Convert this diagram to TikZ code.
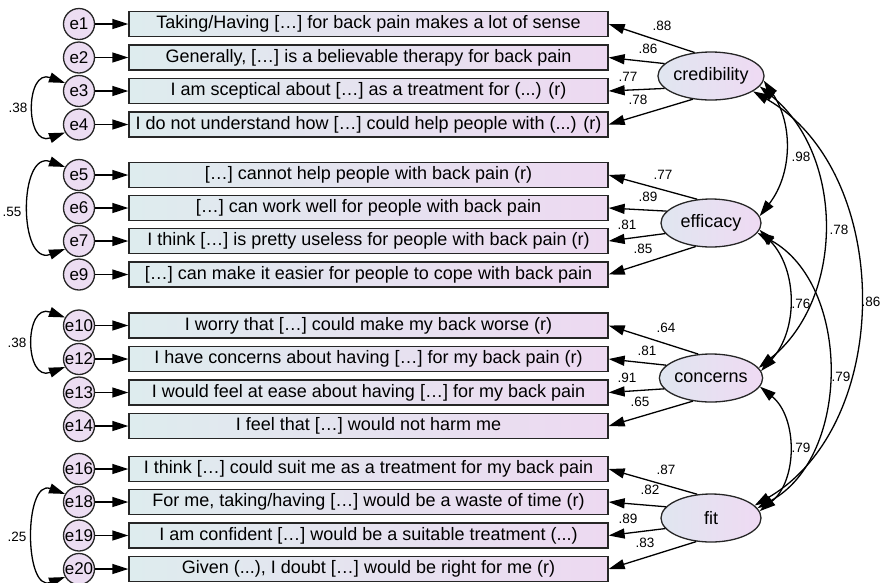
\documentclass[tikz,border=0pt]{standalone}
\usepackage{fontspec}
\setmainfont{Liberation Sans}
\usetikzlibrary{arrows.meta,shapes.geometric}
\usetikzlibrary{positioning}
\definecolor{itemleft}{RGB}{222,236,238}
\definecolor{itemright}{RGB}{237,217,241}
\definecolor{errfill}{RGB}{236,221,242}
\definecolor{factleft}{RGB}{224,230,240}
\definecolor{factright}{RGB}{239,218,243}
\tikzset{
    item/.style={
           rectangle,
           draw=black!85, line width=1.3pt,
           minimum width=479pt, minimum height=25pt,
           inner sep=0pt,
           left color=itemleft, right color=itemright,
           font=\fontsize{18}{20}\selectfont,
           text centered},
    err/.style={
           circle,
           draw=black!85, line width=1.3pt,
           minimum size=31pt, inner sep=0pt,
           fill=errfill,
           font=\fontsize{17}{19}\selectfont},
    factor/.style={
           ellipse,
           draw=black!85, line width=1.3pt,
           minimum width=100pt, minimum height=48pt,
           inner sep=0pt,
           left color=factleft, right color=factright,
           font=\fontsize{18}{20}\selectfont},
    load/.style={
           draw=black, line width=1.3pt,
           -{Triangle[length=16pt,width=10pt]}},
    cov/.style={
           draw=black, line width=1.3pt,
           {Triangle[length=16pt,width=10pt]}-{Triangle[length=16pt,width=10pt]}},
    coef/.style={
           inner sep=0pt,
           font=\fontsize{13.5}{15}\selectfont},
}

\begin{document}
\begin{tikzpicture}[x=1pt, y=1pt]

 \useasboundingbox (0,0) rectangle (881,-582);

 \node[item] (ITEM1) at (368.5,-24)
 {Taking/Having […] for back pain makes a lot of sense};
 \node[item, below of=ITEM1, node distance=33.5pt] (ITEM2)
 {Generally, […] is a believable therapy for back pain};
 \node[item, below of=ITEM2, node distance=33.5pt] (ITEM3)
 {I am sceptical about […] as a treatment for (...) (r)};
 \node[item, below of=ITEM3, node distance=33.5pt] (ITEM4)
 {I do not understand how […] could help people with (...) (r)};

 \node[item, below of=ITEM4, node distance=50.5pt] (ITEM5)
 {[…] cannot help people with back pain (r)};
 \node[item, below of=ITEM5, node distance=33pt] (ITEM6)
 {[…] can work well for people with back pain};
 \node[item, below of=ITEM6, node distance=33pt] (ITEM7)
 {I think […] is pretty useless for people with back pain (r)};
 \node[item, below of=ITEM7, node distance=33.5pt] (ITEM9)
 {[…] can make it easier for people to cope with back pain};

 \node[item, below of=ITEM9, node distance=51pt] (ITEM10)
 {I worry that […] could make my back worse (r)};
 \node[item, below of=ITEM10, node distance=33.5pt] (ITEM12)
 {I have concerns about having […] for my back pain (r)};
 \node[item, below of=ITEM12, node distance=33.5pt] (ITEM13)
 {I would feel at ease about having […] for my back pain};
 \node[item, below of=ITEM13, node distance=33.5pt] (ITEM14)
 {I feel that […] would not harm me};

 \node[item, below of=ITEM14, node distance=43pt] (ITEM16)
 {I think […] could suit me as a treatment for my back pain};
 \node[item, below of=ITEM16, node distance=33pt] (ITEM18)
 {For me, taking/having […] would be a waste of time (r)};
 \node[item, below of=ITEM18, node distance=33.5pt] (ITEM19)
 {I am confident […] would be a suitable treatment (...)};
 \node[item, below of=ITEM19, node distance=33.5pt] (ITEM20)
 {Given (...), I doubt […] would be right for me (r)};

 \node[err, left of=ITEM1, node distance=289.5pt] (E1) {e1};
 \node[err, left of=ITEM2, node distance=289.5pt] (E2) {e2};
 \node[err, left of=ITEM3, node distance=289.5pt] (E3) {e3};
 \node[err, left of=ITEM4, node distance=289.5pt] (E4) {e4};
 \node[err, left of=ITEM5, node distance=289.5pt] (E5) {e5};
 \node[err, left of=ITEM6, node distance=289.5pt] (E6) {e6};
 \node[err, left of=ITEM7, node distance=289.5pt] (E7) {e7};
 \node[err, left of=ITEM9, node distance=289.5pt] (E9) {e9};
 \node[err, left of=ITEM10, node distance=289.5pt] (E10) {e10};
 \node[err, left of=ITEM12, node distance=289.5pt] (E12) {e12};
 \node[err, left of=ITEM13, node distance=289.5pt] (E13) {e13};
 \node[err, left of=ITEM14, node distance=289.5pt] (E14) {e14};
 \node[err, left of=ITEM16, node distance=289.5pt] (E16) {e16};
 \node[err, left of=ITEM18, node distance=289.5pt] (E18) {e18};
 \node[err, left of=ITEM19, node distance=289.5pt] (E19) {e19};
 \node[err, left of=ITEM20, node distance=289.5pt] (E20) {e20};

 \node[factor] (CREDIBILITY) at (711,-76) {credibility};
 \node[factor] (EFFICACY) at (711,-223) {efficacy};
 \node[factor] (CONCERNS) at (711,-378) {concerns};
 \node[factor] (FIT) at (711,-518) {fit};

 \path
 (E1) edge[load] (ITEM1)
 (E2) edge[load] (ITEM2)
 (E3) edge[load] (ITEM3)
 (E4) edge[load] (ITEM4)
 (E5) edge[load] (ITEM5)
 (E6) edge[load] (ITEM6)
 (E7) edge[load] (ITEM7)
 (E9) edge[load] (ITEM9)
 (E10) edge[load] (ITEM10)
 (E12) edge[load] (ITEM12)
 (E13) edge[load] (ITEM13)
 (E14) edge[load] (ITEM14)
 (E16) edge[load] (ITEM16)
 (E18) edge[load] (ITEM18)
 (E19) edge[load] (ITEM19)
 (E20) edge[load] (ITEM20);

 \path
 (CREDIBILITY.125) edge[load] (ITEM1.east)
 (CREDIBILITY.165) edge[load] (ITEM2.east)
 (CREDIBILITY.195) edge[load] (ITEM3.east)
 (CREDIBILITY.232) edge[load] (ITEM4.east)
 (EFFICACY.120) edge[load] (ITEM5.east)
 (EFFICACY.165) edge[load] (ITEM6.east)
 (EFFICACY.193) edge[load] (ITEM7.east)
 (EFFICACY.237) edge[load] (ITEM9.east)
 (CONCERNS.118) edge[load] (ITEM10.east)
 (CONCERNS.164) edge[load] (ITEM12.east)
 (CONCERNS.193) edge[load] (ITEM13.east)
 (CONCERNS.232) edge[load] (ITEM14.east)
 (FIT.120) edge[load] (ITEM16.east)
 (FIT.166) edge[load] (ITEM18.east)
 (FIT.193) edge[load] (ITEM19.east)
 (FIT.238) edge[load] (ITEM20.east);

 \path
 (E3.150) edge[cov, out=160, in=200, looseness=2.2] (E4.210)
 (E5.150) edge[cov, out=160, in=200, looseness=1.55] (E7.210)
 (E10.150) edge[cov, out=160, in=200, looseness=2.25] (E12.210)
 (E18.150) edge[cov, out=160, in=200, looseness=1.35] (E20.210);

 \path
 (CREDIBILITY.-5) edge[cov, bend left=36] (EFFICACY.8)
 (CREDIBILITY.-12) edge[cov, bend left=51] (CONCERNS.12)
 (CREDIBILITY.-20) edge[cov, bend left=60] (FIT.16)
 (EFFICACY.-8) edge[cov, bend left=43] (CONCERNS.8)
 (EFFICACY.-12) edge[cov, bend left=61] (FIT.12)
 (CONCERNS.-10) edge[cov, bend left=51] (FIT.8);

 \node[coef] (LC1) at (662,-26) {.88};
 \node[coef] (LC2) at (648,-49) {.86};
 \node[coef] (LC3) at (628,-77) {.77};
 \node[coef] (LC4) at (638,-100) {.78};
 \node[coef] (LE5) at (663,-175) {.77};
 \node[coef] (LE6) at (648,-197) {.89};
 \node[coef] (LE7) at (627,-225) {.81};
 \node[coef] (LE9) at (643,-249) {.85};
 \node[coef] (LN10) at (666,-328) {.64};
 \node[coef] (LN12) at (647,-351) {.81};
 \node[coef] (LN13) at (627,-378) {.91};
 \node[coef] (LN14) at (640,-402) {.65};
 \node[coef] (LF16) at (666,-470) {.87};
 \node[coef] (LF18) at (650,-490) {.82};
 \node[coef] (LF19) at (628,-519) {.89};
 \node[coef] (LF20) at (645,-543) {.83};

 \node[coef] (R34) at (18,-108) {.38};
 \node[coef] (R57) at (12,-212) {.55};
 \node[coef] (R1012) at (17,-343) {.38};
 \node[coef] (R1820) at (17,-537) {.25};

 \node[coef] (RCE) at (801,-157) {.98};
 \node[coef] (RCN) at (839,-230) {.78};
 \node[coef] (RCF) at (871,-302) {.86};
 \node[coef] (REN) at (801,-304) {.76};
 \node[coef] (REF) at (841,-377) {.79};
 \node[coef] (RNF) at (801,-448) {.79};

\end{tikzpicture}
\end{document}
